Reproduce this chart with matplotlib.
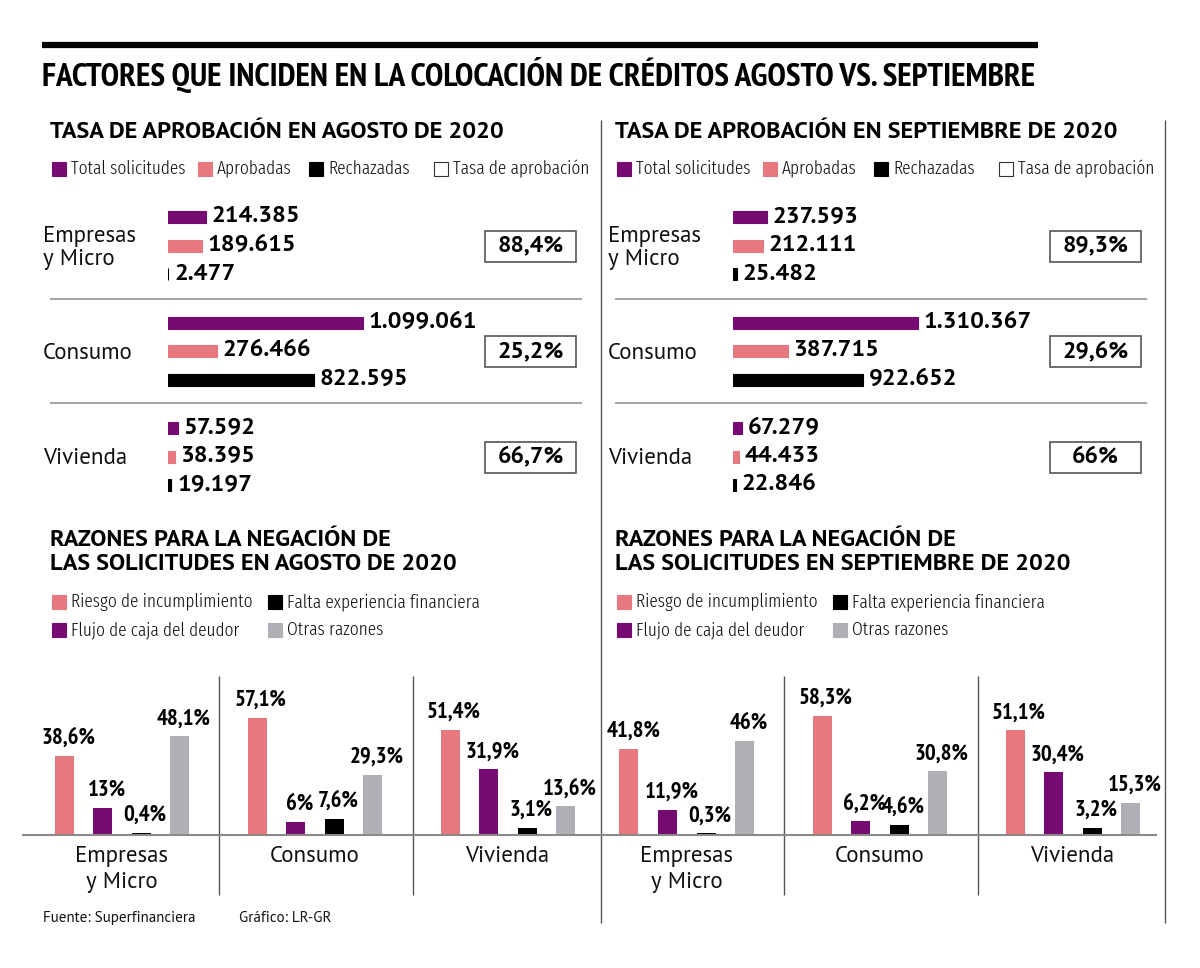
import matplotlib
matplotlib.use("Agg")
import matplotlib.pyplot as plt
from matplotlib.patches import Rectangle

W, H = 1200, 968

# --- datos: solicitudes de crédito ---
categorias = ["Empresas\ny Micro", "Consumo", "Vivienda"]
series_solic = ["Total solicitudes", "Aprobadas", "Rechazadas", "Tasa de aprobación"]
total_ago = [214385, 1099061, 57592]
aprob_ago = [189615, 276466, 38395]
rech_ago = [2477, 822595, 19197]
tasa_ago = ["88,4%", "25,2%", "66,7%"]
total_sep = [237593, 1310367, 67279]
aprob_sep = [212111, 387715, 44433]
rech_sep = [25482, 922652, 22846]
tasa_sep = ["89,3%", "29,6%", "66%"]

# --- datos: razones de negación (%) ---
razones = ["Riesgo de incumplimiento", "Flujo de caja del deudor",
           "Falta experiencia financiera", "Otras razones"]
riesgo_ago = [38.6, 57.1, 51.4]
flujo_ago = [13, 6, 31.9]
falta_ago = [0.4, 7.6, 3.1]
otras_ago = [48.1, 29.3, 13.6]
riesgo_sep = [41.8, 58.3, 51.1]
flujo_sep = [11.9, 6.2, 30.4]
falta_sep = [0.3, 4.6, 3.2]
otras_sep = [46, 30.8, 15.3]

PURPLE = "#760c72"
PINK = "#e87880"
BLACK = "#000000"
GRAY = "#b0afb5"
LINE = "#8a8a8a"

NARROW = ["PT Sans Narrow", "DejaVu Sans"]
COND = ["Fira Sans Extra Condensed", "DejaVu Sans"]
SANS = ["PT Sans", "DejaVu Sans"]

fig = plt.figure(figsize=(W / 100, H / 100), dpi=100)
bg = fig.add_axes([0, 0, 1, 1])
bg.set_xlim(0, W)
bg.set_ylim(H, 0)
bg.axis("off")


def px_axes(x0, y0, x1, y1):
    ax = fig.add_axes([x0 / W, 1 - y1 / H, (x1 - x0) / W, (y1 - y0) / H])
    ax.axis("off")
    return ax


def fmt_miles(v):
    return f"{v:,}".replace(",", ".")


def fmt_pct(v):
    return f"{v:g}".replace(".", ",") + "%"


def hline(x0, x1, y, lw=1.1, color=LINE):
    bg.plot([x0, x1], [y, y], color=color, lw=lw, solid_capstyle="butt")


def vline(x, y0, y1, lw=1.0, color="#555555"):
    bg.plot([x, x], [y0, y1], color=color, lw=lw, solid_capstyle="butt")


def legend_item(x, y, color, label, edge=None):
    bg.add_patch(Rectangle((x, y - 7), 14, 14, facecolor=color,
                           edgecolor=edge if edge else color, lw=0.8))
    bg.text(x + 19, y, label, ha="left", va="center", fontsize=13.5,
            family=COND, fontweight=300, color="#111111")


# título general
bg.plot([42, 1038], [45, 45], color="black", lw=4.5, solid_capstyle="butt")
bg.text(42, 75, "FACTORES QUE INCIDEN EN LA COLOCACIÓN DE CRÉDITOS AGOSTO VS. SEPTIEMBRE",
        ha="left", va="center", fontsize=24, fontweight="bold", family=NARROW)

# divisores verticales
vline(601, 120, 923)
vline(1165, 120, 923)


def panel_solicitudes(x_off, px_por_millon, mes, totales, aprob, rech, tasas):
    bg.text(50 + x_off, 133, f"TASA DE APROBACIÓN EN {mes} DE 2020", ha="left",
            va="center", fontsize=17.5, fontweight="bold", family=SANS)
    xs = [52, 198, 309, 434]
    cols = [PURPLE, PINK, BLACK, "white"]
    for x, c, lab in zip(xs, cols, series_solic):
        legend_item(x + x_off, 169, c, lab, edge="#333333" if c == "white" else None)

    x0 = 168 + x_off
    ax = px_axes(x0, 200, x0 + 420, 500)
    ax.set_xlim(0, 420 / px_por_millon * 1e6)
    ax.set_ylim(500, 200)
    for g in range(3):
        yg = 217 + g * 105.5
        for i, (vals, c) in enumerate(zip([totales, aprob, rech], cols)):
            v = vals[g]
            y = yg + i * 28.5
            ax.barh(y, v, height=12, color=c, edgecolor=c, linewidth=0.8)
            ax.annotate(fmt_miles(v), (v, y), xytext=(4, 0), textcoords="offset points",
                        ha="left", va="center", fontsize=17.5, fontweight="bold",
                        family=SANS, annotation_clip=False)
        yc = yg + 29
        bg.text(43 + x_off, yc + 2, categorias[g], ha="left", va="center", fontsize=16.5,
                family=SANS, linespacing=1.18, color="#111111")
        bg.add_patch(Rectangle((485 + x_off, yc - 15.5), 91, 31, facecolor="white",
                               edgecolor="#555555", lw=1.2))
        bg.text(530.5 + x_off, yc, tasas[g], ha="center", va="center", fontsize=17,
                fontweight="bold", family=SANS)
    hline(50 + x_off, 582 + x_off, 299)
    hline(50 + x_off, 582 + x_off, 403)


def panel_razones(x_off, mes, riesgo, flujo, falta, otras):
    bg.text(50 + x_off, 540, "RAZONES PARA LA NEGACIÓN DE", ha="left", va="center",
            fontsize=17.5, fontweight="bold", family=SANS)
    bg.text(50 + x_off, 564, f"LAS SOLICITUDES EN {mes} DE 2020", ha="left", va="center",
            fontsize=17.5, fontweight="bold", family=SANS)
    legend_item(52 + x_off, 602, PINK, razones[0])
    legend_item(268 + x_off, 602, BLACK, razones[2])
    legend_item(52 + x_off, 630, PURPLE, razones[1])
    legend_item(268 + x_off, 630, GRAY, razones[3])

    ax = px_axes(22 + x_off, 640, 600 + x_off, 834)
    ax.set_xlim(22 + x_off, 600 + x_off)
    ax.set_ylim(0, 194 / 2.03)
    series = [riesgo, flujo, falta, otras]
    cols = [PINK, PURPLE, BLACK, GRAY]
    for g in range(3):
        for i, (vals, c) in enumerate(zip(series, cols)):
            x = 64 + x_off + g * 193 + i * 38.5
            v = vals[g]
            ax.bar(x, v, width=19, color=c, linewidth=0)
            ax.annotate(fmt_pct(v), (x, v), xytext=(3, 5), textcoords="offset points",
                        ha="center", va="bottom", fontsize=16.5, fontweight="bold",
                        family=NARROW, annotation_clip=False)
        bg.text(121.5 + x_off + g * 193, 846, categorias[g], ha="center", va="top",
                fontsize=16.5, family=SANS, linespacing=1.3, color="#111111")
    for xs in (219, 413):
        vline(xs + x_off, 676, 895)


panel_solicitudes(0, 177.4, "AGOSTO", total_ago, aprob_ago, rech_ago, tasa_ago)
panel_solicitudes(565, 141.2, "SEPTIEMBRE", total_sep, aprob_sep, rech_sep, tasa_sep)
panel_razones(0, "AGOSTO", riesgo_ago, flujo_ago, falta_ago, otras_ago)
panel_razones(565, "SEPTIEMBRE", riesgo_sep, flujo_sep, falta_sep, otras_sep)

# línea base de las barras de razones
hline(22, 1157, 834.5, lw=1.5)

bg.text(43, 918, "Fuente: Superfinanciera", ha="left", va="center", fontsize=10.8,
        family=SANS, color="#111111")
bg.text(239, 918, "Gráfico: LR-GR", ha="left", va="center", fontsize=10.8,
        family=SANS, color="#111111")

fig.savefig("out.png", dpi=100, facecolor="white")
